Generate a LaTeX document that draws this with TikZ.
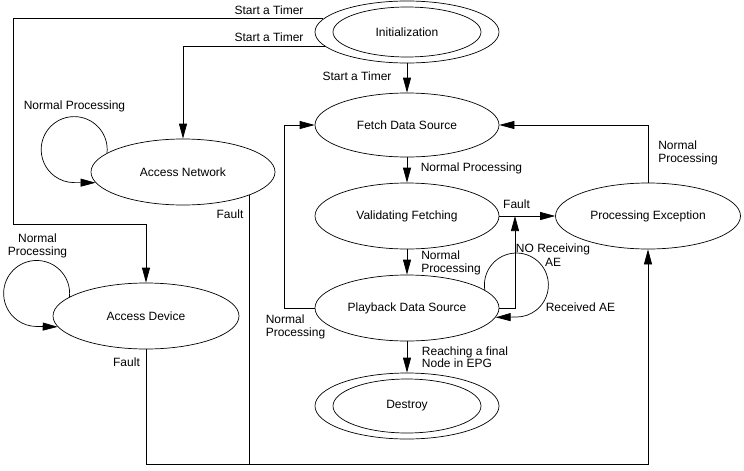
\documentclass[tikz,border=0pt]{standalone}
\usepackage{fontspec}
\setmainfont{Liberation Sans}
\usetikzlibrary{shapes.geometric, arrows.meta}

\begin{document}
\begin{tikzpicture}[x=1pt, y=-1pt, line width=0.7pt,
  state/.style = {draw, ellipse, inner sep=0pt, minimum width=184pt, minimum height=66pt},
  arr/.style = {-{Triangle[length=15pt,width=8pt]}},
  lbl/.style = {inner sep=0pt, align=left},
  every node/.append style = {font=\fontsize{12}{12.5}\selectfont}]
\useasboundingbox (0,0) rectangle (744,471);

% states
\node [state, minimum height=62pt] (init) at (407,32) {Initialization};
\draw (init) ellipse [x radius=74pt, y radius=25pt];
\node [state] (net) at (183,172) {Access Network};
\node [state, minimum width=186pt] (dev) at (146,316) {Access Device};
\node [state, minimum height=64pt] (fetch) at (407,125) {Fetch Data Source};
\node [state] (valid) at (407,216) {Validating Fetching};
\node [state, minimum width=185pt] (exc) at (648,216) {Processing Exception};
\node [state] (play) at (407,308) {Playback Data Source};
\node [state] (dest) at (407,406) {Destroy};
\draw (dest) ellipse [x radius=74pt, y radius=27pt];

% bends
\coordinate (left) at (13,224);
\coordinate (bot) at (648,464);
\coordinate (fj) at (515,216);

% transitions
\draw [arr] (init.171) -| (left) -| (dev.north);
\draw [arr] (init.190) -| (net.north);
\draw [arr] (init.south) -- (fetch.north);
\draw [arr] (net.166) arc [start angle=-6, end angle=270, radius=33pt] -- (net.187);
\draw [arr] (dev.166) arc [start angle=-6, end angle=270, radius=33pt] -- (dev.187);
\draw (net.341) -- (net.341 |- bot);
\draw [arr] (dev.south) |- (bot) -- (exc.south);
\draw [arr] (fetch.south) -- (valid.north);
\draw [arr] (valid.east) -- (exc.west);
\draw [arr] (exc.north) |- (fetch.east);
\draw [arr] (valid.south) -- (play.north);
\draw [arr] (play.east) -| (fj);
\draw [arr] (play.13) arc [start angle=189, end angle=-90, radius=32pt] -- (play.354);
\draw [arr] (play.west) -- ++(-30,0) |- (fetch.west);
\draw [arr] (play.south) -- (dest.north);

% labels
\node [lbl] (t1) at (269,10) {Start a Timer};
\node [lbl] (t2) at (269,37) {Start a Timer};
\node [lbl] (t3) at (357,76) {Start a Timer};
\node [lbl] (np1) at (74.5,106) {Normal Processing};
\node [lbl] (f1) at (230,214) {Fault};
\node [lbl, align=center] (np2) at (37.5,246) {Normal\\Processing};
\node [lbl] (f2) at (126.5,362) {Fault};
\node [lbl] (np3) at (295.5,327) {Normal\\Processing};
\node [lbl] (np4) at (471.5,168) {Normal Processing};
\node [lbl] (f3) at (516.5,204) {Fault};
\node [lbl] (np5) at (688,153) {Normal\\Processing};
\node [lbl] (np6) at (451,263) {Normal\\Processing};
\node [lbl, align=center] (nr) at (553,255) {NO Receiving\\[1.5pt]AE};
\node [lbl] (ra) at (580.5,307) {Received AE};
\node [lbl] (fin) at (465,357) {Reaching a final\\Node in EPG};
\end{tikzpicture}
\end{document}
